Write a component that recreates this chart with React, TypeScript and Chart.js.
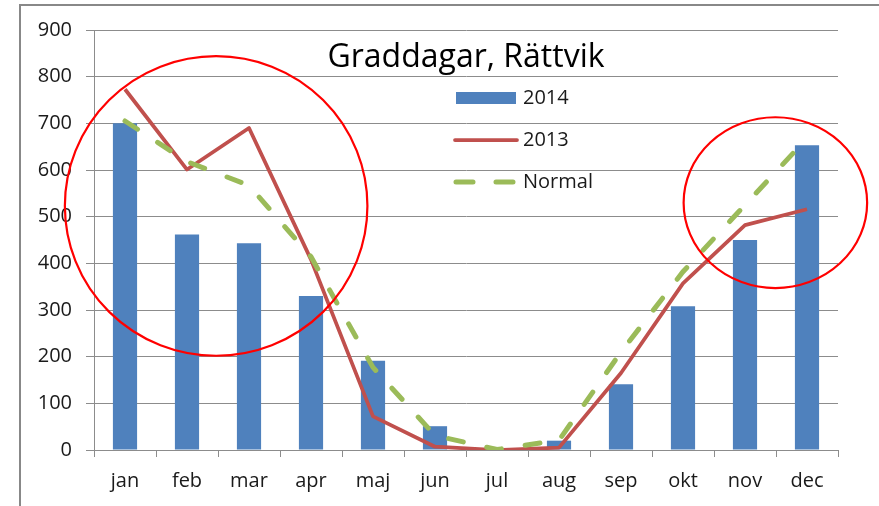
import React, { useEffect, useRef } from "react";
import { Chart, registerables } from "chart.js";

Chart.register(...registerables);

const categories = ["jan", "feb", "mar", "apr", "maj", "jun", "jul", "aug", "sep", "okt", "nov", "dec"];
const values2014 = [700, 462, 443, 330, 191, 51, 0, 20, 141, 308, 450, 653];
const values2013 = [773, 601, 690, 408, 72, 7, 0, 5, 165, 357, 482, 516];
const valuesNormal = [705, 618, 567, 414, 177, 31, 1, 21, 210, 382, 525, 668];

const titleText = "Graddagar, Rättvik";
const legendLabels = ["2014", "2013", "Normal"];

// annotation ellipses in data units: [centerIndex, centerValue, radiusCategories, radiusValue]
const ellipses = [
  [1.47, 523, 2.44, 321],
  [10.49, 530, 1.48, 183],
];

const FONT = "'Open Sans', sans-serif";
const BLUE = "#4F81BD";
const RED = "#C0504D";
const GREEN = "#9BBB59";
const GRID = "#8c8c8c";
const TEXT = "#1a1a1a";

const overlayPlugin = {
  id: "overlay",
  beforeDraw(chart: any) {
    const ctx = chart.ctx;
    ctx.save();
    ctx.fillStyle = "#ffffff";
    ctx.fillRect(0, 0, chart.width, chart.height);
    ctx.strokeStyle = "#888888";
    ctx.lineWidth = 2;
    ctx.beginPath();
    ctx.moveTo(20, chart.height);
    ctx.lineTo(20, 5);
    ctx.lineTo(chart.width, 5);
    ctx.stroke();
    ctx.restore();
  },
  afterDraw(chart: any) {
    const ctx = chart.ctx;
    const xs = chart.scales.x;
    const ys = chart.scales.y;
    const area = chart.chartArea;
    ctx.save();
    // title
    ctx.fillStyle = "#000000";
    ctx.font = `32px ${FONT}`;
    ctx.textAlign = "center";
    ctx.textBaseline = "alphabetic";
    ctx.fillText(titleText, (area.left + area.right) / 2, 67);

    // legend
    const lx = 454;
    const tx = 523;
    const rows = [98, 140, 182];
    ctx.font = `20px ${FONT}`;
    ctx.textAlign = "left";
    ctx.textBaseline = "middle";
    // 2014 box
    ctx.fillStyle = BLUE;
    ctx.fillRect(lx + 2, rows[0] - 6, 60, 12);
    // 2013 line
    ctx.strokeStyle = RED;
    ctx.lineWidth = 3.75;
    ctx.lineCap = "round";
    ctx.beginPath();
    ctx.moveTo(lx + 1, rows[1]);
    ctx.lineTo(lx + 63, rows[1]);
    ctx.stroke();
    // Normal dashed
    ctx.strokeStyle = GREEN;
    ctx.lineWidth = 5;
    ctx.beginPath();
    ctx.moveTo(lx + 2, rows[2]);
    ctx.lineTo(lx + 19, rows[2]);
    ctx.moveTo(lx + 42, rows[2]);
    ctx.lineTo(lx + 59, rows[2]);
    ctx.stroke();
    ctx.fillStyle = TEXT;
    legendLabels.forEach((l, i) => ctx.fillText(l, tx, rows[i]));

    // ellipses
    ctx.strokeStyle = "#ff0000";
    ctx.lineWidth = 2.2;
    const step = xs.getPixelForValue(1) - xs.getPixelForValue(0);
    ellipses.forEach(([ci, cv, rc, rv]) => {
      const cx = xs.getPixelForValue(0) + ci * step;
      const cy = ys.getPixelForValue(cv);
      const rx = rc * step;
      const ry = Math.abs(ys.getPixelForValue(rv) - ys.getPixelForValue(0));
      ctx.beginPath();
      ctx.ellipse(cx, cy, rx, ry, 0, 0, Math.PI * 2);
      ctx.stroke();
    });
    ctx.restore();
  },
};

export default function App() {
  const ref = useRef<HTMLCanvasElement>(null);
  useEffect(() => {
    document.body.style.margin = "0";
    const canvas = ref.current!;
    const chart = new Chart(canvas, {
      type: "bar",
      data: {
        labels: categories,
        datasets: [
          {
            type: "line",
            label: "Normal",
            data: valuesNormal,
            borderColor: GREEN,
            borderWidth: 5,
            borderDash: [15, 24],
            borderCapStyle: "round",
            pointRadius: 0,
            tension: 0,
            order: 0,
          },
          {
            type: "line",
            label: "2013",
            data: values2013,
            borderColor: RED,
            borderWidth: 3.75,
            pointRadius: 0,
            tension: 0,
            borderJoinStyle: "round",
            order: 1,
          },
          {
            type: "bar",
            label: "2014",
            data: values2014,
            backgroundColor: BLUE,
            barPercentage: 0.39,
            categoryPercentage: 1,
            order: 2,
          },
        ],
      } as any,
      options: {
        responsive: false,
        animation: false,
        devicePixelRatio: 1,
        layout: { padding: { left: 0, top: 30, right: 41, bottom: 0 } },
        plugins: {
          legend: { display: false },
          title: { display: false },
          tooltip: { enabled: false },
        },
        scales: {
          x: {
            offset: true,
            grid: {
              offset: true,
              drawOnChartArea: false,
              drawTicks: true,
              tickLength: 7,
              color: GRID,
              lineWidth: 1,
            },
            border: { display: true, color: GRID, width: 1 },
            ticks: {
              color: TEXT,
              font: { family: FONT, size: 20 },
              padding: 12,
              maxRotation: 0,
            },
            afterFit: (s: any) => {
              s.height = 56;
            },
          },
          y: {
            min: 0,
            max: 900,
            ticks: {
              stepSize: 100,
              color: TEXT,
              font: { family: FONT, size: 20 },
              padding: 14,
            },
            grid: {
              color: GRID,
              lineWidth: 1,
              drawTicks: true,
              tickLength: 8,
            },
            border: { display: true, color: GRID, width: 1 },
            afterFit: (s: any) => {
              s.width = 94;
            },
          },
        },
      } as any,
      plugins: [overlayPlugin],
    });
    return () => chart.destroy();
  }, []);
  return (
    <div style={{ position: "absolute", left: 0, top: 0, width: 879, height: 506 }}>
      <canvas ref={ref} width={879} height={506} style={{ width: 879, height: 506 }} />
    </div>
  );
}
